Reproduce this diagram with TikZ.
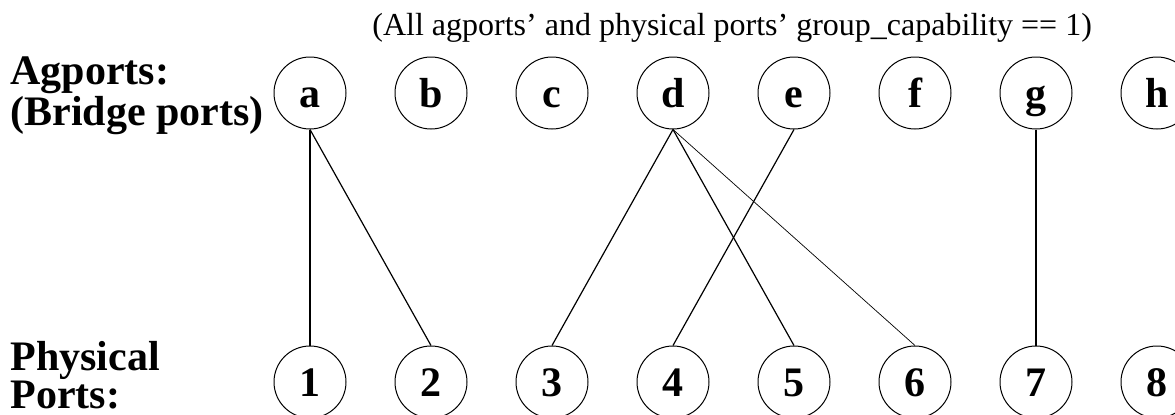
\documentclass[tikz,border=0pt]{standalone}
\usepackage{fontspec}
\setmainfont{Liberation Serif}
\usetikzlibrary{positioning}

\begin{document}
\begin{tikzpicture}[
    x=0.5pt, y=-0.5pt,
    node distance=108pt and 24pt,
    port/.style={
        draw,
        circle,
        line width=0.5pt,
        minimum size=36pt,
        inner sep=0pt,
        text height=14.3pt,
        text depth=0pt,
        font=\fontsize{21}{19}\selectfont\bfseries
    },
    heading/.style={
        align=left,
        anchor=base west,
        inner sep=0pt,
        text depth=0pt,
        font=\fontsize{21}{19}\selectfont\bfseries
    },
    link/.style={line width=0.6pt},
    boldlink/.style={line width=1pt},
    thinlink/.style={line width=0.35pt}
]
\clip (0,0) rectangle (1175,414);

\node[anchor=base west, inner sep=0pt, font=\fontsize{16}{19}\selectfont]
    (note) at (372,35) {(All agports' and physical ports' group\_capability == 1)};

% base anchor sits on the last line
\node[heading] (agports) at (10,125) {Agports:\\(Bridge ports)};
\node[heading] (physical) at (10,408) {Physical\\Ports:};

% agports
\node[port] (a) at (310,93) {a};
\node[port, right=of a] (b) {b};
\node[port, right=of b] (c) {c};
\node[port, right=of c] (d) {d};
\node[port, right=of d] (e) {e};
\node[port, right=of e] (f) {f};
\node[port, right=of f] (g) {g};
\node[port, right=of g] (h) {h};

% physical ports
\node[port, below=of a] (p1) {1};
\node[port, right=of p1] (p2) {2};
\node[port, right=of p2] (p3) {3};
\node[port, right=of p3] (p4) {4};
\node[port, right=of p4] (p5) {5};
\node[port, right=of p5] (p6) {6};
\node[port, right=of p6] (p7) {7};
\node[port, right=of p7] (p8) {8};

\draw[boldlink] (a.south) -- (p1.north);
\draw[link] (a.south) -- (p2.north);
\draw[link] (d.south) -- (p3.north);
\draw[link] (d.south) -- (p5.north);
\draw[thinlink] (d.south) -- (p6.north);
\draw[link] (e.south) -- (p4.north);
\draw[boldlink] (g.south) -- (p7.north);

\end{tikzpicture}
\end{document}
